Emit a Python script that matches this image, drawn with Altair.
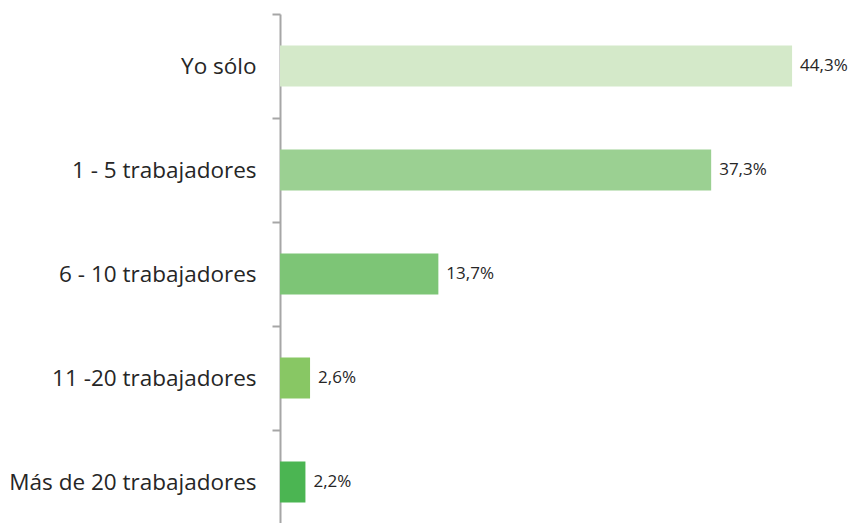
import altair as alt
import pandas as pd

categories = ["Yo sólo", "1 - 5 trabajadores", "6 - 10 trabajadores", "11 -20 trabajadores", "Más de 20 trabajadores"]
values = [44.3, 37.3, 13.7, 2.6, 2.2]
labels = ["44,3%", "37,3%", "13,7%", "2,6%", "2,2%"]
colors = ["#d4e9c9", "#9bd092", "#7dc576", "#88c764", "#4bb552"]

df = pd.DataFrame({"cat": categories, "val": values, "lab": labels, "col": colors})

y = alt.Y("cat:N", sort=categories, title=None,
          scale=alt.Scale(paddingInner=0, paddingOuter=0, range=[0, 520]),
          axis=alt.Axis(tickBand="extent", domainColor="#a6a6a6", domainWidth=2,
                        tickColor="#a6a6a6", tickWidth=2, tickSize=8,
                        labelFont="Open Sans", labelFontSize=22.5, labelColor="#262626",
                        labelPadding=16, labelLimit=300))
x = alt.X("val:Q", scale=alt.Scale(domain=[0, 45.85], nice=False), axis=None)

bars = alt.Chart(df).mark_bar(size=41).encode(x=x, y=y, color=alt.Color("col:N", scale=None))
text = alt.Chart(df).mark_text(align="left", dx=8, font="Open Sans", fontSize=17, color="#262626").encode(
    x=x, y=y, text="lab:N")

chart = (bars + text).properties(
    width=530, height=509,
    autosize=alt.AutoSizeParams(type="none"),
    padding={"left": 272, "top": 6, "right": 41, "bottom": 0},
).configure_view(stroke=None)
chart.save("out.html", embed_options={"renderer": "svg", "actions": False})
